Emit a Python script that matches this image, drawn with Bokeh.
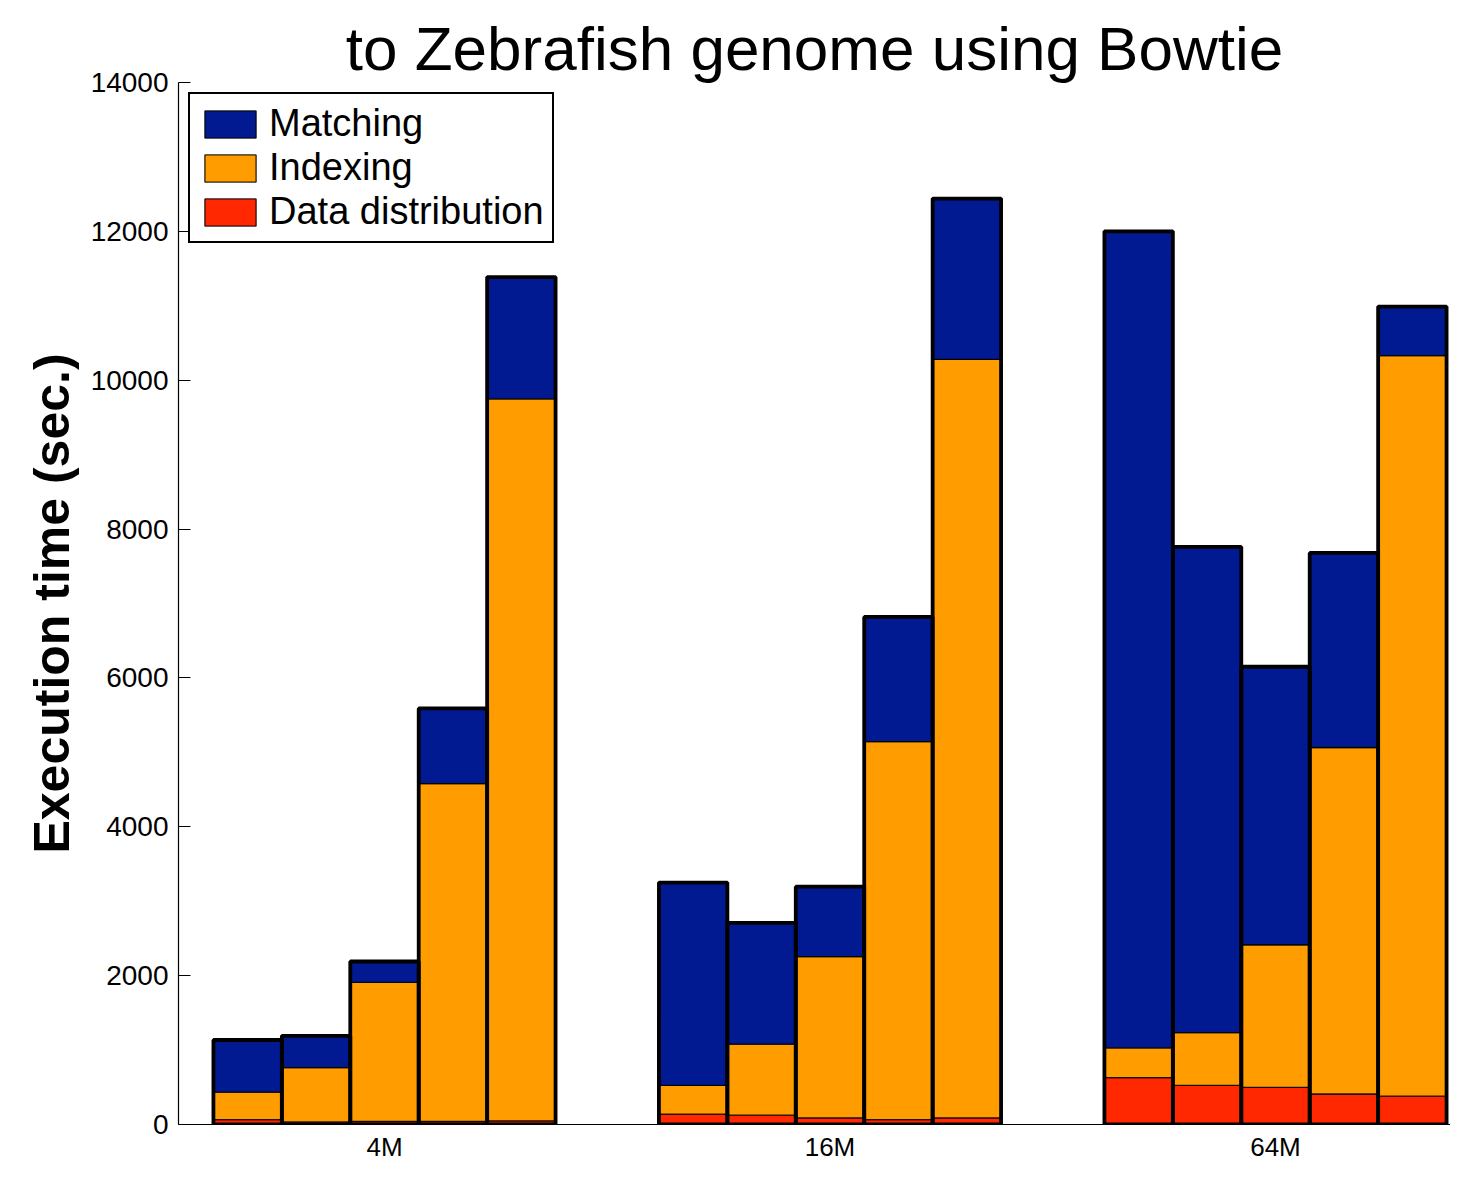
from bokeh.plotting import figure
from bokeh.models import ColumnDataSource, Range1d, FixedTicker, Legend, LegendItem
from bokeh.embed import file_html
from bokeh.resources import INLINE

# ---- data ----
groups = ["4M", "16M", "64M"]
data_distribution = [65, 35, 40, 40, 50,
                     140, 125, 90, 65, 90,
                     630, 525, 500, 410, 380]
indexing = [370, 730, 1870, 4540, 9700,
            385, 955, 2165, 5080, 10190,
            400, 710, 1915, 4655, 9950]
matching = [700, 426, 280, 1010, 1636,
            2725, 1630, 940, 1675, 2160,
            10970, 6525, 3735, 2615, 660]
y_ticks = [0, 2000, 4000, 6000, 8000, 10000, 12000, 14000]
title_text = "to Zebrafish genome using Bowtie"
y_label = "Execution time (sec.)"
series_names = ["Matching", "Indexing", "Data distribution"]

# ---- styling ----
BLUE = "#021a91"
ORANGE = "#ff9d00"
RED = "#ff2800"
FONT = "Liberation Sans"

bars_per_group = 5
bar_w = 0.1536
W, H = 1450, 1164
border_left, border_top, border_bottom = 178, 82, 30
group_px = 445.5                      # pixels between group centres
first_center_px = 384                 # pixel of the first group centre
x_start = 1 - (first_center_px - border_left) / group_px
x_end = x_start + (W - border_left) / group_px

xs, b0, t0, t1, t2 = [], [], [], [], []
for i in range(len(matching)):
    g = i // bars_per_group
    j = i % bars_per_group
    xs.append(g + 1 + (j - (bars_per_group - 1) / 2) * bar_w)
    d = data_distribution[i]
    ix = indexing[i]
    m = matching[i]
    b0.append(0)
    t0.append(d)
    t1.append(d + ix)
    t2.append(d + ix + m)

src = ColumnDataSource(dict(x=xs, b0=b0, t0=t0, t1=t1, t2=t2))

p = figure(width=W, height=H, output_backend="svg", toolbar_location=None,
           x_range=Range1d(x_start, x_end), y_range=Range1d(0, 14000),
           min_border_left=border_left, min_border_right=0,
           min_border_top=border_top, min_border_bottom=border_bottom,
           background_fill_color="white", border_fill_color="white",
           title=title_text)
p.outline_line_color = None
p.xgrid.visible = False
p.ygrid.visible = False

# title (the reference shows it cut at the top edge; here it is kept whole)
p.title.text_font = FONT
p.title.text_font_size = "62px"
p.title.text_font_style = "normal"
p.title.text_color = "black"
p.title.align = "center"
p.title.standoff = 0
p.title.offset = 0

seg_line = dict(line_color="black", line_width=1.3, line_alpha=0.85)
r_red = p.vbar(x="x", bottom="b0", top="t0", width=bar_w, fill_color=RED, source=src, **seg_line)
r_or = p.vbar(x="x", bottom="t0", top="t1", width=bar_w, fill_color=ORANGE, source=src, **seg_line)
r_bl = p.vbar(x="x", bottom="t1", top="t2", width=bar_w, fill_color=BLUE, source=src, **seg_line)
p.vbar(x="x", bottom="b0", top="t2", width=bar_w, fill_color=None, line_color="black",
       line_width=3.8, source=src)

# x axis: group names
xa = p.xaxis[0]
xa.ticker = FixedTicker(ticks=[1, 2, 3])
xa.major_label_overrides = {i + 1: name for i, name in enumerate(groups)}
xa.major_tick_line_color = None
xa.minor_tick_line_color = None
xa.axis_line_color = "black"
xa.axis_line_width = 1.2
xa.major_label_standoff = 1
xa.major_label_text_font = FONT
xa.major_label_text_font_size = "26px"
xa.major_label_text_color = "black"

# y axis
ya = p.yaxis[0]
ya.ticker = FixedTicker(ticks=y_ticks)
ya.minor_tick_line_color = None
ya.major_tick_in = 12
ya.major_tick_out = 0
ya.major_tick_line_color = "black"
ya.axis_line_color = "black"
ya.axis_line_width = 1.2
ya.major_label_text_font = FONT
ya.major_label_text_font_size = "28px"
ya.major_label_text_color = "black"
ya.major_label_standoff = 10
ya.axis_label = y_label
ya.axis_label_text_font = FONT
ya.axis_label_text_font_size = "50px"
ya.axis_label_text_font_style = "bold"
ya.axis_label_text_color = "black"
ya.axis_label_standoff = 8

legend = Legend(items=[LegendItem(label=series_names[0], renderers=[r_bl]),
                       LegendItem(label=series_names[1], renderers=[r_or]),
                       LegendItem(label=series_names[2], renderers=[r_red])],
                location="top_left")
legend.margin = 10
legend.padding = 8
legend.spacing = 1
legend.glyph_width = 64
legend.glyph_height = 34
legend.label_height = 34
legend.label_standoff = 7
legend.label_text_font = FONT
legend.label_text_font_size = "38px"
legend.label_text_color = "black"
legend.border_line_color = "black"
legend.border_line_width = 2
legend.border_line_alpha = 1.0
legend.background_fill_color = "white"
legend.background_fill_alpha = 1.0
p.add_layout(legend, "center")

open("out.html", "w").write(file_html(p, INLINE))
